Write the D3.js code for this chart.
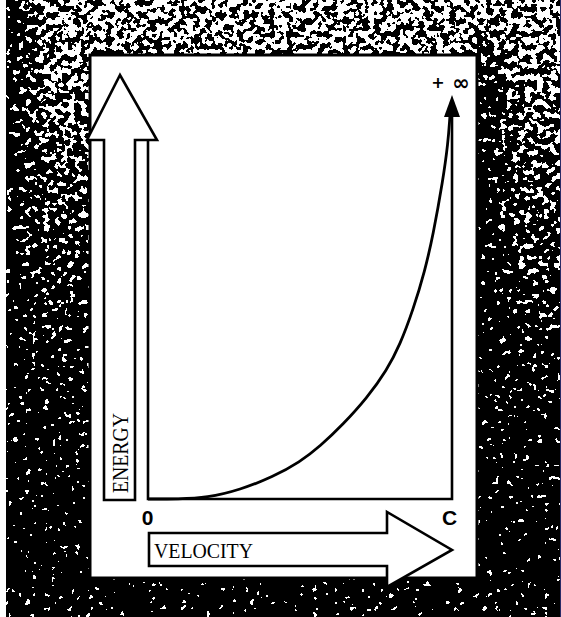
<!DOCTYPE html>
<html>
<head>
<meta charset="utf-8">
<script src="https://cdn.jsdelivr.net/npm/d3@7"></script>
<style>
  html, body { margin: 0; padding: 0; background: #fff; }
  svg { display: block; }
</style>
</head>
<body>
<svg id="chart" width="561" height="617"></svg>
<script>
// Energy rises without bound as velocity approaches c (arbitrary energy units).
const velocity = [0, 0.1, 0.194, 0.303, 0.411, 0.5,  0.566, 0.641, 0.72, 0.786, 0.829, 0.872, 0.911, 0.9375, 0.97, 0.987, 0.993];
const energy   = [0, 0,   0.03,  0.24,  0.58,  0.97, 1.38,  1.95,  2.64, 3.38,  4.04,  4.95,  5.98,  6.9,    8.33, 9.32,  10.0];

const xTickValues = [0, 1];
const xTickLabels = ["0", "C"];
const xTitle = "VELOCITY";
const yTitle = "ENERGY";
const limitSign = "+";
const limitSymbol = "\u221E";

const W = 561, H = 617;
const svg = d3.select("#chart");
const defs = svg.append("defs");

// Scales: velocity as a fraction of c, energy up to the arrow at the top
const x = d3.scaleLinear().domain([0, 1]).range([148, 452]);
const y = d3.scaleLinear().domain([0, 10]).range([499, 117]);

// ---- speckled halftone backdrop -------------------------------------------
const grain = defs.append("filter")
  .attr("id", "grain")
  .attr("filterUnits", "userSpaceOnUse")
  .attr("x", 0).attr("y", 0).attr("width", W).attr("height", H)
  .attr("color-interpolation-filters", "sRGB");
grain.append("feTurbulence")
  .attr("type", "fractalNoise").attr("baseFrequency", 0.16)
  .attr("numOctaves", 2).attr("seed", 11).attr("result", "noise");
grain.append("feColorMatrix")
  .attr("in", "noise").attr("type", "matrix")
  .attr("values", "1 0 0 0 0  1 0 0 0 0  1 0 0 0 0  0 0 0 0 1")
  .attr("result", "gray");
grain.append("feComposite")
  .attr("in", "gray").attr("in2", "SourceGraphic")
  .attr("operator", "arithmetic")
  .attr("k1", 0).attr("k2", 2.4).attr("k3", 1).attr("k4", -1.22)
  .attr("result", "sum");
const ct = grain.append("feComponentTransfer").attr("in", "sum");
["R", "G", "B"].forEach(c => ct.append("feFunc" + c).attr("type", "discrete").attr("tableValues", "0 1"));
ct.append("feFuncA").attr("type", "linear").attr("slope", 0).attr("intercept", 1);

// brightness bias: light at the top, nearly black toward the bottom
const vgrad = defs.append("linearGradient").attr("id", "vgrad")
  .attr("x1", 0).attr("y1", 0).attr("x2", 0).attr("y2", 1);
[[0, 0.57], [0.1, 0.52], [0.25, 0.4], [0.45, 0.24], [0.65, 0.08], [0.85, 0], [1, 0]].forEach(([o, v]) => {
  const c = Math.round(v * 255);
  vgrad.append("stop").attr("offset", o).attr("stop-color", `rgb(${c},${c},${c})`);
});
// dark left margin
const lgrad = defs.append("linearGradient").attr("id", "lgrad")
  .attr("x1", 0).attr("y1", 0).attr("x2", 1).attr("y2", 0);
lgrad.append("stop").attr("offset", 0).attr("stop-color", "#000").attr("stop-opacity", 1);
lgrad.append("stop").attr("offset", 0.3).attr("stop-color", "#000").attr("stop-opacity", 0.6);
lgrad.append("stop").attr("offset", 1).attr("stop-color", "#000").attr("stop-opacity", 0);
// shadow along the right side of the panel
const rgrad = defs.append("linearGradient").attr("id", "rgrad")
  .attr("x1", 0).attr("y1", 0).attr("x2", 1).attr("y2", 0);
rgrad.append("stop").attr("offset", 0).attr("stop-color", "#000").attr("stop-opacity", 1);
rgrad.append("stop").attr("offset", 0.4).attr("stop-color", "#000").attr("stop-opacity", 0.7);
rgrad.append("stop").attr("offset", 1).attr("stop-color", "#000").attr("stop-opacity", 0);
const rfade = defs.append("linearGradient").attr("id", "rfade")
  .attr("x1", 0).attr("y1", 0).attr("x2", 0).attr("y2", 1);
rfade.append("stop").attr("offset", 0).attr("stop-color", "#fff").attr("stop-opacity", 0);
rfade.append("stop").attr("offset", 0.2).attr("stop-color", "#fff").attr("stop-opacity", 1);
rfade.append("stop").attr("offset", 1).attr("stop-color", "#fff").attr("stop-opacity", 1);
const rmask = defs.append("mask").attr("id", "rmask");
rmask.append("rect").attr("x", 470).attr("y", 0).attr("width", 60).attr("height", H).attr("fill", "url(#rfade)");

const bg = svg.append("g").attr("filter", "url(#grain)");
bg.append("rect").attr("x", 0).attr("y", 0).attr("width", W).attr("height", H).attr("fill", "url(#vgrad)");
bg.append("rect").attr("x", 6).attr("y", 0).attr("width", 45).attr("height", H).attr("fill", "url(#lgrad)");
bg.append("rect").attr("x", 477).attr("y", 0).attr("width", 45).attr("height", H)
  .attr("fill", "url(#rgrad)").attr("mask", "url(#rmask)");

// plain paper strip on the far left and the thin edge on the right
svg.append("rect").attr("x", 0).attr("y", 0).attr("width", 6).attr("height", H).attr("fill", "#fff");
svg.append("line").attr("x1", 560.5).attr("x2", 560.5).attr("y1", 0).attr("y2", H)
  .attr("stroke", "#2a2a66").attr("stroke-width", 1);

// ---- white panel -------------------------------------------------------------
svg.append("rect")
  .attr("x", 90).attr("y", 55).attr("width", 387).attr("height", 523)
  .attr("fill", "#fff").attr("stroke", "#000").attr("stroke-width", 3);

const ink = "#000";

// hollow upward arrow carrying the energy title
const headBase = 140;
svg.append("path")
  .attr("d", `M104,500 L104,${headBase} L87,${headBase} L120,75 L157,${headBase} L135,${headBase} L135,500 Z`)
  .attr("fill", "#fff").attr("stroke", ink).attr("stroke-width", 2.6).attr("stroke-linejoin", "miter");

// hollow rightward arrow carrying the velocity title
svg.append("path")
  .attr("d", `M149,533 L387,533 L387,512 L${x(1)},550 L387,587 L387,566 L149,566 Z`)
  .attr("fill", "#fff").attr("stroke", ink).attr("stroke-width", 2.6).attr("stroke-linejoin", "miter");

// frame: energy axis, velocity axis, and the asymptote at v = c
svg.append("path")
  .attr("d", `M${x(0)},${headBase} L${x(0)},${y(0)} L${x(1)},${y(0)} L${x(1)},${y(10)}`)
  .attr("fill", "none").attr("stroke", ink).attr("stroke-width", 2.6);

// arrowhead on the asymptote
svg.append("path")
  .attr("d", `M${x(1)},95 L${x(1) - 8},${y(10)} L${x(1) + 8},${y(10)} Z`)
  .attr("fill", ink);

// energy curve
const line = d3.line()
  .x((d, i) => x(velocity[i]))
  .y((d, i) => y(energy[i]))
  .curve(d3.curveBasis);
svg.append("path")
  .datum(energy)
  .attr("d", line)
  .attr("fill", "none").attr("stroke", ink).attr("stroke-width", 2.8);

// velocity tick labels: 0 and c
const xAxis = d3.axisBottom(x)
  .tickValues(xTickValues)
  .tickFormat((d, i) => xTickLabels[i])
  .tickSize(0).tickPadding(11);
const gx = svg.append("g").attr("transform", `translate(0,${y(0)})`).call(xAxis);
gx.select(".domain").remove();
gx.selectAll("text")
  .attr("fill", ink)
  .attr("font-family", "'Liberation Sans', Arial, sans-serif")
  .attr("font-weight", "bold")
  .attr("font-size", 21)
  .attr("dx", (d, i) => i === 0 ? -1 : -3);

// limit label above the asymptote
svg.append("text")
  .attr("x", 438).attr("y", 88)
  .attr("text-anchor", "middle")
  .attr("font-family", "'DejaVu Sans', sans-serif").attr("font-weight", "bold").attr("font-size", 16)
  .attr("fill", ink).text(limitSign);
svg.append("text")
  .attr("x", 461).attr("y", 90)
  .attr("text-anchor", "middle")
  .attr("font-family", "'DejaVu Sans', sans-serif").attr("font-weight", "bold").attr("font-size", 21)
  .attr("fill", ink).text(limitSymbol);

// axis titles inside the arrows
svg.append("text")
  .attr("x", 154).attr("y", 558)
  .attr("textLength", 99).attr("lengthAdjust", "spacingAndGlyphs")
  .attr("font-family", "'Liberation Serif', 'Times New Roman', serif")
  .attr("font-size", 22)
  .attr("fill", ink).text(xTitle);

svg.append("text")
  .attr("transform", "translate(128,493) rotate(-90)")
  .attr("textLength", 80).attr("lengthAdjust", "spacingAndGlyphs")
  .attr("font-family", "'Liberation Serif', 'Times New Roman', serif")
  .attr("font-size", 23)
  .attr("fill", ink).text(yTitle);
</script>
</body>
</html>
